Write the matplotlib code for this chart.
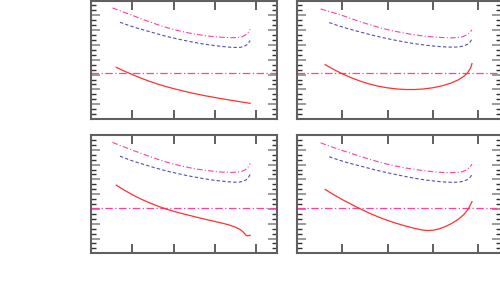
import matplotlib
matplotlib.use("Agg")
import matplotlib.pyplot as plt
from matplotlib.ticker import MultipleLocator

# ---- data ----
tl_pink_x = [0.52, 0.80, 1.00, 1.20, 1.40, 1.60, 1.80, 2.00, 2.20, 2.40, 2.60, 2.80, 3.00, 3.20, 3.40, 3.55, 3.65, 3.73, 3.80, 3.85]
tl_pink_y = [7.50, 7.20, 7.00, 6.78, 6.58, 6.38, 6.20, 6.04, 5.91, 5.79, 5.69, 5.61, 5.55, 5.51, 5.49, 5.50, 5.55, 5.66, 5.83, 6.06]
tl_blue_x = [0.70, 0.90, 1.10, 1.30, 1.50, 1.70, 1.90, 2.10, 2.30, 2.50, 2.70, 2.90, 3.10, 3.30, 3.45, 3.58, 3.67, 3.75, 3.81, 3.85]
tl_blue_y = [6.53, 6.33, 6.15, 5.99, 5.83, 5.67, 5.53, 5.40, 5.28, 5.17, 5.07, 4.99, 4.92, 4.86, 4.83, 4.83, 4.87, 4.97, 5.12, 5.30]
tl_red_x = [0.61, 0.80, 1.00, 1.20, 1.40, 1.60, 1.80, 2.00, 2.20, 2.40, 2.60, 2.80, 3.00, 3.20, 3.40, 3.60, 3.85]
tl_red_y = [3.49, 3.24, 3.00, 2.77, 2.56, 2.37, 2.20, 2.05, 1.91, 1.78, 1.66, 1.55, 1.45, 1.35, 1.26, 1.17, 1.06]

tr_pink_x = [0.52, 0.80, 1.00, 1.20, 1.40, 1.60, 1.80, 2.00, 2.20, 2.40, 2.60, 2.80, 3.00, 3.20, 3.40, 3.55, 3.66, 3.74, 3.81, 3.86]
tr_pink_y = [7.43, 7.18, 6.99, 6.77, 6.56, 6.37, 6.19, 6.03, 5.90, 5.78, 5.68, 5.60, 5.54, 5.50, 5.48, 5.50, 5.56, 5.67, 5.83, 6.02]
tr_blue_x = [0.71, 0.90, 1.10, 1.30, 1.50, 1.70, 1.90, 2.10, 2.30, 2.50, 2.70, 2.90, 3.10, 3.30, 3.45, 3.58, 3.68, 3.76, 3.82, 3.86]
tr_blue_y = [6.51, 6.31, 6.12, 5.95, 5.79, 5.63, 5.49, 5.36, 5.24, 5.13, 5.04, 4.96, 4.90, 4.86, 4.85, 4.87, 4.93, 5.04, 5.20, 5.41]
tr_red_x = [0.62, 0.80, 1.00, 1.20, 1.40, 1.60, 1.80, 2.00, 2.20, 2.40, 2.60, 2.80, 3.00, 3.20, 3.40, 3.55, 3.68, 3.77, 3.83, 3.86]
tr_red_y = [3.67, 3.36, 3.05, 2.78, 2.55, 2.36, 2.21, 2.10, 2.03, 1.99, 1.99, 2.03, 2.11, 2.24, 2.43, 2.63, 2.88, 3.15, 3.45, 3.74]

bl_pink_x = [0.52, 0.80, 1.00, 1.20, 1.40, 1.60, 1.80, 2.00, 2.20, 2.40, 2.60, 2.80, 3.00, 3.20, 3.40, 3.55, 3.65, 3.73, 3.80, 3.85]
bl_pink_y = [7.50, 7.19, 6.98, 6.77, 6.57, 6.37, 6.19, 6.03, 5.90, 5.78, 5.68, 5.60, 5.53, 5.49, 5.47, 5.49, 5.54, 5.65, 5.83, 6.08]
bl_blue_x = [0.70, 0.90, 1.10, 1.30, 1.50, 1.70, 1.90, 2.10, 2.30, 2.50, 2.70, 2.90, 3.10, 3.30, 3.45, 3.58, 3.67, 3.75, 3.81, 3.85]
bl_blue_y = [6.57, 6.35, 6.16, 5.99, 5.82, 5.66, 5.52, 5.39, 5.27, 5.16, 5.06, 4.97, 4.90, 4.84, 4.81, 4.81, 4.86, 4.96, 5.13, 5.34]
bl_red_x = [0.61, 0.80, 1.00, 1.20, 1.40, 1.60, 1.80, 2.00, 2.20, 2.40, 2.60, 2.80, 3.00, 3.20, 3.35, 3.50, 3.60, 3.68, 3.74, 3.78, 3.85]
bl_red_y = [4.61, 4.28, 3.96, 3.68, 3.43, 3.21, 3.01, 2.84, 2.69, 2.55, 2.41, 2.28, 2.15, 2.02, 1.91, 1.76, 1.62, 1.45, 1.25, 1.18, 1.22]

br_pink_x = [0.52, 0.80, 1.00, 1.20, 1.40, 1.60, 1.80, 2.00, 2.20, 2.40, 2.60, 2.80, 3.00, 3.20, 3.40, 3.55, 3.66, 3.74, 3.81, 3.86]
br_pink_y = [7.47, 7.16, 6.95, 6.75, 6.55, 6.36, 6.18, 6.02, 5.89, 5.77, 5.67, 5.59, 5.52, 5.47, 5.45, 5.47, 5.53, 5.64, 5.81, 6.03]
br_blue_x = [0.71, 0.90, 1.10, 1.30, 1.50, 1.70, 1.90, 2.10, 2.30, 2.50, 2.70, 2.90, 3.10, 3.30, 3.45, 3.58, 3.68, 3.76, 3.82, 3.86]
br_blue_y = [6.53, 6.33, 6.14, 5.98, 5.82, 5.66, 5.51, 5.38, 5.25, 5.13, 5.02, 4.93, 4.86, 4.81, 4.80, 4.82, 4.88, 4.99, 5.14, 5.34]
br_red_x = [0.62, 0.80, 1.00, 1.20, 1.40, 1.60, 1.80, 2.00, 2.20, 2.40, 2.60, 2.75, 2.88, 3.00, 3.12, 3.25, 3.40, 3.55, 3.68, 3.78, 3.86]
br_red_y = [4.32, 3.98, 3.63, 3.31, 3.00, 2.71, 2.45, 2.22, 2.02, 1.84, 1.68, 1.58, 1.54, 1.56, 1.64, 1.78, 2.00, 2.28, 2.62, 3.00, 3.49]

hline_top = 3.08
hline_bottom = 3.04

panels = [
    (tl_pink_x, tl_pink_y, tl_blue_x, tl_blue_y, tl_red_x, tl_red_y, hline_top),
    (tr_pink_x, tr_pink_y, tr_blue_x, tr_blue_y, tr_red_x, tr_red_y, hline_top),
    (bl_pink_x, bl_pink_y, bl_blue_x, bl_blue_y, bl_red_x, bl_red_y, hline_bottom),
    (br_pink_x, br_pink_y, br_blue_x, br_blue_y, br_red_x, br_red_y, hline_bottom),
]

W, H = 500, 300
# axes rectangles in pixels: (left, top, right, bottom)
rects = [
    (91, 0.5, 277, 119),
    (297, 0.5, 501, 119),
    (91, 135, 277, 253.3),
    (297, 135, 501, 253.3),
]

PINK = "#ff40a0"
BLUE = "#5050b0"
RED = "#ff3030"

fig = plt.figure(figsize=(5, 3), dpi=100)
for (l, t, r, b), (px, py, bx, by, rx, ry, hl) in zip(rects, panels):
    ax = fig.add_axes([l / W, 1 - b / H, (r - l) / W, (b - t) / H])
    ax.set_xlim(0, 4.5)
    ax.set_ylim(0, 8)
    ax.axhline(hl, color=PINK, lw=0.9, linestyle=(0, (6, 2, 1, 2)))
    ax.plot(px, py, color=PINK, lw=0.8, linestyle=(0, (5, 2, 1, 2)))
    ax.plot(bx, by, color=BLUE, lw=0.8, linestyle=(0, (3, 2)))
    ax.plot(rx, ry, color=RED, lw=0.9)
    ax.xaxis.set_major_locator(MultipleLocator(1))
    ax.yaxis.set_major_locator(MultipleLocator(1))
    ax.yaxis.set_minor_locator(MultipleLocator(1 / 3))
    ax.tick_params(which="major", direction="in", top=True, right=True,
                   length=6.5, width=1.2, color="#8a8a8a",
                   labelbottom=False, labelleft=False)
    ax.tick_params(which="minor", direction="in", top=True, right=True,
                   length=3.5, width=1.0, color="#333333")
    ax.tick_params(axis="x", which="major", color="#444444", width=1.2)
    for s in ax.spines.values():
        s.set_color("#606060")
        s.set_linewidth(1.5)

fig.savefig("out.png", dpi=100)
